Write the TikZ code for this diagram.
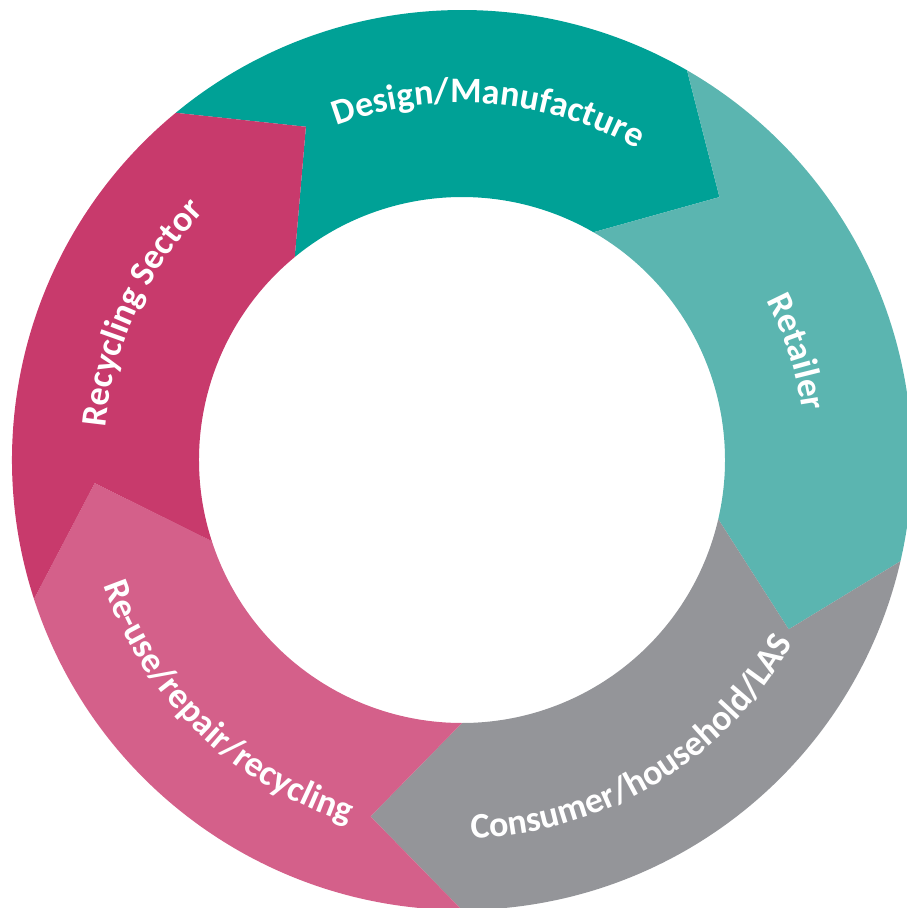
\documentclass[tikz,border=0pt]{standalone}
\usepackage{fontspec}
\setmainfont{Carlito}
\usepackage{tikz}
\usetikzlibrary{decorations.text}
\definecolor{designteal}{HTML}{00A196}
\definecolor{retailteal}{HTML}{5BB5B0}
\definecolor{consumergrey}{HTML}{949599}
\definecolor{reusepink}{HTML}{D4608A}
\definecolor{recyclepink}{HTML}{C83A6C}
\newcommand{\stagefont}{\fontsize{36}{43}\selectfont\bfseries}

\begin{document}
\begin{tikzpicture}[
		stagetext/.style={
			postaction={decorate},
			decoration={text along path, text align=center, text color=white, text={|\stagefont|#1}}
		}
	]
	\useasboundingbox (-462pt,-448pt) rectangle (444pt,460pt);
		\fill[designteal] (129.5:450pt) arc[start angle=129.5, end angle=60, radius=450pt] -- (45.6:368pt)
			-- (60:263pt) arc[start angle=60, end angle=129.5, radius=263pt] -- (115.1:368pt) -- cycle;
		\fill[retailteal] (60:450pt) arc[start angle=60, end angle=-13, radius=450pt] -- (-27.4:368pt)
			-- (-13:263pt) arc[start angle=-13, end angle=60, radius=263pt] -- (45.6:368pt) -- cycle;
		\fill[consumergrey] (-13:450pt) arc[start angle=-13, end angle=-90, radius=450pt] -- (-104.4:368pt)
			-- (-90:263pt) arc[start angle=-90, end angle=-13, radius=263pt] -- (-27.4:368pt) -- cycle;
		\fill[reusepink] (-90:450pt) arc[start angle=-90, end angle=-162, radius=450pt] -- (-176.4:368pt)
			-- (-162:263pt) arc[start angle=-162, end angle=-90, radius=263pt] -- (-104.4:368pt) -- cycle;
		\fill[recyclepink] (198:450pt) arc[start angle=198, end angle=129.5, radius=450pt] -- (115.1:368pt)
			-- (129.5:263pt) arc[start angle=129.5, end angle=198, radius=263pt] -- (183.6:368pt) -- cycle;
		\path[stagetext={Design/Manufacture}] (125.6:357pt) arc[start angle=125.6, end angle=45.6, radius=357pt];
		\path[stagetext={Retailer}] (57.9:344pt) arc[start angle=57.9, end angle=-22.1, radius=344pt];
		\path[stagetext={Consumer/household/LAS}] (-98.75:378pt) arc[start angle=-98.75, end angle=-18.75, radius=378pt];
		\path[stagetext={Re-use/repair/recycling}] (185.9:380pt) arc[start angle=185.9, end angle=265.9, radius=380pt];
		\path[stagetext={Recycling Sector}] (195.4:358pt) arc[start angle=195.4, end angle=115.4, radius=358pt];
	\end{tikzpicture}
\end{document}
